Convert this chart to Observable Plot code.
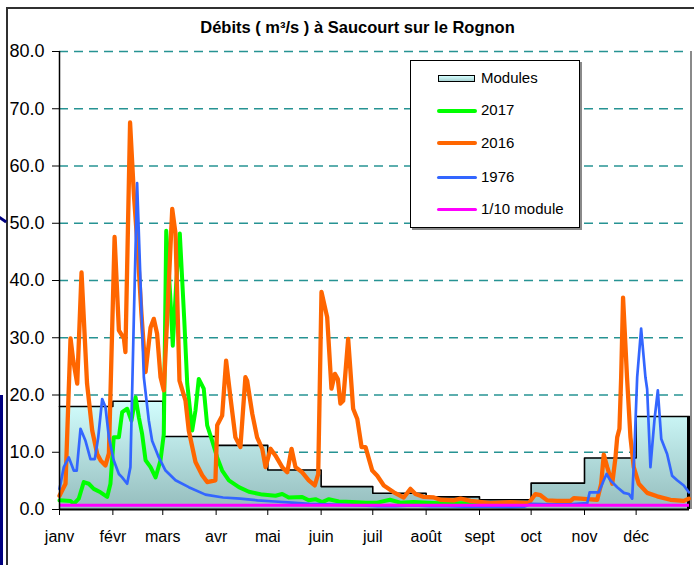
<!DOCTYPE html>
<html><head><meta charset="utf-8">
<script src="https://cdn.jsdelivr.net/npm/d3@7"></script>
<script src="https://cdn.jsdelivr.net/npm/@observablehq/plot@0.6"></script>
<style>
body{margin:0;background:#fff;font-family:"Liberation Sans",Arial,sans-serif;}
#wrap{position:relative;width:694px;height:565px;overflow:hidden;background:#fff;}
#chart{position:absolute;left:0;top:0;}
#frame{position:absolute;left:6px;top:7px;width:720px;height:600px;border-top:2px solid #303030;border-left:2px solid #303030;}
#navy{position:absolute;left:0;top:395px;width:3px;height:170px;background:#000080;}
#navy2{position:absolute;left:-2px;top:218px;width:9px;height:3px;background:#000080;transform:rotate(35deg);}
#title{position:absolute;left:357.5px;top:18px;transform:translateX(-50%);white-space:nowrap;font-weight:bold;font-size:16.5px;line-height:19px;color:#000;}
#legend{position:absolute;left:410px;top:60px;width:168px;height:166px;border:1px solid #000;background:#fff;box-shadow:2px 2px 0 #8a8a8a;}
.lt{position:absolute;left:481px;font-size:15px;line-height:18px;color:#000;white-space:nowrap;}
.ll{position:absolute;left:437px;width:40px;border-radius:2px;}
#sw{position:absolute;left:438px;top:75px;width:35px;height:5px;border:1.5px solid #000;background:linear-gradient(#d4fefe,#a8d2d2);}
</style></head><body>
<div id="wrap">
  <div id="frame"></div>
  <div id="navy"></div>
  <div id="navy2"></div>
  <div id="title">Débits ( m³/s ) à Saucourt sur le Rognon</div>
  <div id="chart"></div>
  <div id="legend"></div>
  <div id="sw"></div><div class="lt" style="top:69px">Modules</div>
  <div class="ll" style="top:109px;height:4px;background:#00ff00"></div><div class="lt" style="top:101px">2017</div>
  <div class="ll" style="top:141px;height:4px;background:#ff6600"></div><div class="lt" style="top:134px">2016</div>
  <div class="ll" style="top:176px;height:3px;background:#3366ff"></div><div class="lt" style="top:168px">1976</div>
  <div class="ll" style="top:208px;height:3px;background:#ff00ff"></div><div class="lt" style="top:200px">1/10 module</div>
</div>
<script>
// month starts (day of year, leap year) and labels
const monthStarts = [0,31,60,91,121,152,182,213,244,274,305,335];
const monthLabels = ["janv","févr","mars","avr","mai","juin","juil","août","sept","oct","nov","déc"];
const yearEnd = 366;
const yTicks = [0,10,20,30,40,50,60,70,80];
const gridTicks = [10,20,30,40,50,60,70,80];

// monthly modules (m3/s)
const moduleVals = [18.0,18.9,12.75,11.2,6.9,4.0,2.85,2.2,1.7,4.6,9.0,16.25];
const tenthModule = 0.75;

// daily discharges [day, m3/s]
const q2016 = [[0,2.4],[3.5,4.5],[6.4,29.9],[8,26],[10.3,22],[12.8,41.4],[16,22],[19,13.8],[21.9,9.7],[24,8.5],[26.7,7.7],[28.7,9.8],[32,47.6],[34.5,31.3],[37.4,29.9],[38.3,27.5],[39.3,42.3],[41,67.6],[43.2,55.1],[45.1,47],[47.6,34.2],[50,24],[52.9,31.8],[54.8,33.3],[56.7,30.7],[58.7,23.1],[60.6,20.8],[65.5,52.5],[67.4,48.2],[69.7,22.5],[73.2,19],[75.1,13.8],[79,8.3],[82.9,6.0],[85.8,4.8],[90.6,5.1],[91.6,14.7],[94.5,16.4],[96.8,26],[99.3,19.6],[102.2,12.6],[105.1,10.9],[108,23.1],[109,22.5],[112,16.7],[114.8,12.6],[117.8,10.6],[119.7,7.4],[122.6,10.6],[125.5,9.4],[129.4,7.4],[132.3,6.5],[134.8,10.6],[137.1,7.4],[141,6.5],[144.8,5.1],[148.3,4.2],[150.3,6.2],[152.2,38],[155.5,33.6],[158,21.1],[160,23.7],[161.7,22.8],[163.2,18.5],[164.8,19],[167.7,29.8],[170.6,17.6],[173,15.8],[175.5,10.9],[177.8,10.9],[181.7,6.8],[184.6,5.9],[188.4,4.2],[194.2,3.0],[200,2.1],[203.9,3.6],[206.8,2.7],[211.6,2.2],[217.5,2.1],[221.3,1.7],[229,1.6],[233,1.9],[238.8,1.5],[250.4,1.1],[262,1.3],[272.6,1.1],[276.5,2.7],[279.4,2.5],[283.3,1.6],[289,1.5],[296.9,1.5],[298.8,2.0],[306.6,1.8],[312.4,1.7],[314.7,4.5],[316.2,9.6],[318.2,7.4],[321.1,4.5],[323,9.1],[324,12.6],[325.3,14.1],[326.3,23.1],[327.4,37],[329.7,23.1],[331.7,12.6],[333.6,7.4],[336.5,4.5],[341.4,2.9],[347.2,2.3],[354.9,1.7],[362.7,1.5],[365.6,1.9]];

const q2017 = [[0,1.6],[6.4,1.5],[8.3,1.0],[11.2,1.9],[14.1,4.8],[17,4.5],[19.9,3.6],[23.8,3.0],[27.7,2.2],[29.6,4.5],[31.5,12.6],[34.5,12.6],[36.4,17],[39.3,17.6],[41.8,15.5],[44.2,19.6],[46.1,16.1],[48,13.2],[50,8.6],[52.9,7.4],[55.8,5.6],[58.7,8.6],[60.6,13.2],[62,48.7],[64.5,36.5],[65.8,28.6],[67.8,39.4],[69.9,48.2],[72.5,33],[74.2,22],[77.1,13.8],[79,17.3],[80.9,22.8],[83.8,21.1],[85.8,14.7],[88.7,12],[91.6,9.1],[94.5,6.8],[98.4,5.1],[104.2,3.9],[110,3.1],[117.8,2.6],[125.5,2.4],[129.4,2.7],[133.2,2.1],[141,2.2],[144.8,1.6],[148.7,1.8],[152.6,1.3],[156.5,1.8],[162.3,1.4],[170,1.3],[178,1.2],[184.6,1.2],[192,1.7],[198,1.2],[205.8,1.3],[213.6,1.2],[221,1.1],[233,1.1],[243,1.1]];

const q1976 = [[0,3.6],[2.5,7.4],[5.4,9.1],[8.3,6.8],[10,6.8],[12.2,14.1],[15.1,12],[18,8.8],[20.5,8.8],[22.5,12.6],[24.8,19.3],[26.7,17.9],[28.7,12.6],[31.5,8.6],[34.5,6.2],[36.4,5.6],[39.3,4.5],[41.2,7.4],[43.2,33.6],[45.1,57],[47.1,39.4],[49,23.1],[51.9,15.5],[53.8,12],[57.7,9.1],[61.6,6.8],[67.4,5.1],[75.1,3.9],[84.8,2.6],[95,2.1],[105,1.9],[115,1.6],[125,1.4],[135,1.2],[145,1.0],[155,0.9],[165,0.8],[175,0.7],[185,0.6],[195,0.6],[205,0.7],[215,0.6],[225,0.6],[235,0.5],[250,0.5],[262,0.4],[270,0.5],[274,1.0],[285,0.9],[296,0.9],[306.6,1.1],[308,3.0],[313.3,3.0],[316.2,5.1],[317.8,6.2],[320,5.1],[324,3.9],[327.9,2.9],[330.8,2.7],[332.7,1.9],[334,10.3],[335.6,23.1],[337.9,31.6],[340.4,23.1],[341.4,21],[343.3,7.4],[345.6,15.5],[347.6,20.8],[349.6,12.3],[353,9.7],[355.9,5.9],[358.8,5.1],[362.7,4.2],[365.6,3.0]];

const modules = monthStarts.map((d,i)=>({day:d,q:moduleVals[i]}));
modules.push({day:yearEnd,q:moduleVals[moduleVals.length-1]});
const monthMap = new Map(monthStarts.map((d,i)=>[d,monthLabels[i]]));

const X = d=>d[0], Y = d=>d[1];
const line = (data, stroke, w) => Plot.lineY(data,{x:X,y:Y,stroke,strokeWidth:w,strokeLinejoin:"round",strokeLinecap:"round"});

const plot = Plot.plot({
  width:694, height:565,
  marginLeft:59, marginRight:5, marginTop:51, marginBottom:56,
  x:{domain:[0,yearEnd]},
  y:{domain:[0,80]},
  style:{background:"transparent",fontFamily:"'Liberation Sans',Arial,sans-serif",color:"#000"},
  marks:[
    Plot.ruleY(gridTicks,{stroke:"#008080",strokeOpacity:0.85,strokeWidth:1.3,strokeDasharray:"9,6"}),
    Plot.areaY(modules,{x:"day",y:"q",curve:"step-after",fill:"url(#modGrad)"}),
    Plot.lineY(modules,{x:"day",y:"q",curve:"step-after",stroke:"#000",strokeWidth:1.6}),
    Plot.ruleX([yearEnd],{y1:0,y2:moduleVals[moduleVals.length-1],stroke:"#000",strokeWidth:3,dx:-1}),
    Plot.ruleX([yearEnd],{stroke:"#8a8a8a",strokeWidth:2,dx:1.5}),
    line(q2017,"#00ff00",4),
    line(q2016,"#ff6600",4.3),
    line(q1976,"#3366ff",2.7),
    Plot.ruleY([tenthModule],{stroke:"#ff00ff",strokeWidth:3}),
    Plot.ruleY([0],{stroke:"#000",strokeWidth:2}),
    Plot.ruleX([0],{stroke:"#000",strokeWidth:1.5}),
    Plot.axisY({ticks:yTicks,tickFormat:d=>d.toFixed(1),tickSize:7,tickPadding:8,fontSize:18,label:null,stroke:"#000"}),
    Plot.axisX({ticks:monthStarts,tickFormat:d=>monthMap.get(d),tickSize:6,tickPadding:15,fontSize:16,label:null,stroke:"#000"})
  ]
});

const ys = plot.scale("y");
const svg = d3.select(plot);
const defs = svg.insert("defs",":first-child");
const grad = defs.append("linearGradient").attr("id","modGrad")
  .attr("gradientUnits","userSpaceOnUse")
  .attr("x1",0).attr("x2",0)
  .attr("y1",ys.apply(19)).attr("y2",ys.apply(0));
grad.append("stop").attr("offset","0%").attr("stop-color","#d2fefe");
grad.append("stop").attr("offset","100%").attr("stop-color","#95bdbd");

document.getElementById("chart").appendChild(plot);
</script>
</body></html>
